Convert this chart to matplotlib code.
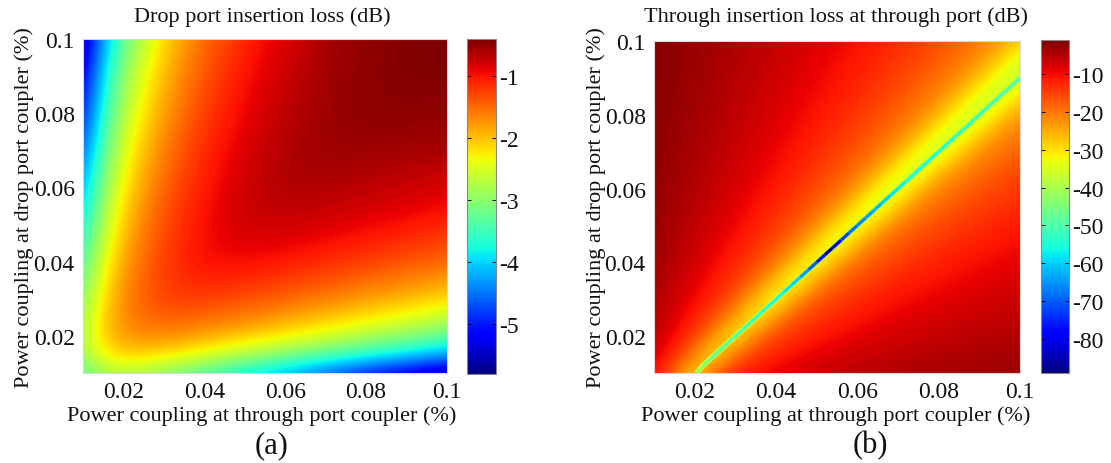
import numpy as np
import matplotlib
matplotlib.use('Agg')
from matplotlib import pyplot as plt
from matplotlib.collections import LineCollection

plt.rcParams['font.family'] = ['Liberation Serif', 'DejaVu Serif']

# coupling values of the grid nodes (through port = columns, drop port = rows)
grid_lo, grid_hi, grid_step = 0.01, 0.1, 0.005
tick_vals = [0.02, 0.04, 0.06, 0.08, 0.1]
tick_labels = ['0.02', '0.04', '0.06', '0.08', '0.1']

# (a) drop port loss, estimated from the colours, first row is drop = 0.01
drop_loss = [
    [-3.3, -2.85, -2.77, -2.85, -3.0, -3.2, -3.4, -3.6, -3.8, -4.0, -4.2, -4.4, -4.6, -4.8, -5.0, -5.15, -5.3, -5.45, -5.6],
    [-2.85, -2.3, -2.1, -2.1, -2.2, -2.3, -2.45, -2.6, -2.75, -2.9, -3.05, -3.2, -3.35, -3.5, -3.65, -3.8, -3.95, -4.1, -4.25],
    [-2.77, -2.1, -1.8, -1.7, -1.7, -1.75, -1.85, -1.95, -2.05, -2.15, -2.27, -2.38, -2.5, -2.62, -2.75, -2.87, -3.0, -3.12, -3.3],
    [-2.85, -2.1, -1.7, -1.5, -1.45, -1.45, -1.5, -1.55, -1.62, -1.7, -1.8, -1.9, -2.0, -2.1, -2.2, -2.3, -2.4, -2.52, -2.65],
    [-3.0, -2.2, -1.7, -1.45, -1.3, -1.25, -1.25, -1.3, -1.35, -1.4, -1.47, -1.55, -1.62, -1.7, -1.8, -1.88, -1.97, -2.05, -2.15],
    [-3.2, -2.3, -1.75, -1.45, -1.25, -1.15, -1.1, -1.1, -1.13, -1.18, -1.23, -1.3, -1.35, -1.42, -1.5, -1.56, -1.63, -1.7, -1.8],
    [-3.4, -2.45, -1.85, -1.5, -1.25, -1.1, -1.0, -0.97, -0.97, -1.0, -1.04, -1.08, -1.14, -1.2, -1.25, -1.32, -1.38, -1.44, -1.5],
    [-3.6, -2.6, -1.95, -1.55, -1.3, -1.1, -0.97, -0.9, -0.87, -0.87, -0.9, -0.93, -0.97, -1.02, -1.07, -1.12, -1.17, -1.23, -1.3],
    [-3.8, -2.75, -2.05, -1.62, -1.35, -1.13, -0.97, -0.87, -0.8, -0.77, -0.78, -0.8, -0.84, -0.88, -0.92, -0.96, -1.0, -1.05, -1.1],
    [-4.0, -2.9, -2.15, -1.7, -1.4, -1.18, -1.0, -0.87, -0.77, -0.72, -0.7, -0.71, -0.73, -0.76, -0.8, -0.83, -0.87, -0.91, -0.95],
    [-4.2, -3.05, -2.27, -1.8, -1.47, -1.23, -1.04, -0.9, -0.78, -0.7, -0.66, -0.64, -0.65, -0.67, -0.7, -0.73, -0.76, -0.8, -0.85],
    [-4.4, -3.2, -2.38, -1.9, -1.55, -1.3, -1.08, -0.93, -0.8, -0.71, -0.64, -0.6, -0.59, -0.6, -0.62, -0.64, -0.67, -0.7, -0.75],
    [-4.6, -3.35, -2.5, -2.0, -1.62, -1.35, -1.14, -0.97, -0.84, -0.73, -0.65, -0.59, -0.56, -0.55, -0.56, -0.57, -0.58, -0.58, -0.58],
    [-4.8, -3.5, -2.62, -2.1, -1.7, -1.42, -1.2, -1.02, -0.88, -0.76, -0.67, -0.6, -0.55, -0.52, -0.51, -0.51, -0.52, -0.53, -0.54],
    [-5.0, -3.65, -2.75, -2.2, -1.8, -1.5, -1.25, -1.07, -0.92, -0.8, -0.7, -0.62, -0.56, -0.51, -0.49, -0.48, -0.48, -0.49, -0.5],
    [-5.15, -3.8, -2.87, -2.3, -1.88, -1.56, -1.32, -1.12, -0.96, -0.83, -0.73, -0.64, -0.57, -0.51, -0.48, -0.46, -0.45, -0.45, -0.46],
    [-5.3, -3.95, -3.0, -2.4, -1.97, -1.63, -1.38, -1.17, -1.0, -0.87, -0.76, -0.67, -0.58, -0.52, -0.48, -0.45, -0.44, -0.43, -0.43],
    [-5.45, -4.1, -3.12, -2.52, -2.05, -1.7, -1.44, -1.23, -1.05, -0.91, -0.8, -0.7, -0.58, -0.53, -0.49, -0.45, -0.43, -0.42, -0.41],
    [-5.6, -4.25, -3.3, -2.65, -2.15, -1.8, -1.5, -1.3, -1.1, -0.95, -0.85, -0.75, -0.58, -0.54, -0.5, -0.46, -0.43, -0.41, -0.4],
]

# (b) through port loss, first row is drop = 0.01
through_loss = [
    [-10, -19, -30, -17, -12.7, -10.4, -8.8, -7.6, -6.7, -6.1, -5.5, -5, -4.7, -4.3, -4, -3.8, -3.5, -3.35, -3.2],
    [-7.6, -12.8, -21, -32, -19, -14.4, -11.9, -10.2, -8.9, -8, -7.2, -6.6, -6, -5.6, -5.2, -4.9, -4.6, -4.3, -4.1],
    [-6.2, -10, -14.8, -23, -33, -20, -15.6, -13, -11.2, -9.9, -8.9, -8.1, -7.4, -6.8, -6.3, -5.9, -5.6, -5.2, -4.9],
    [-5.2, -8.2, -11.7, -16.5, -24, -34, -21.4, -16.8, -14, -12.3, -10.9, -9.8, -8.9, -8.2, -7.6, -7.1, -6.6, -6.2, -5.9],
    [-4.5, -7, -9.9, -13.3, -17.8, -26, -35, -22.3, -17.6, -14.9, -13.1, -11.7, -10.6, -9.7, -8.9, -8.3, -7.7, -7.2, -6.8],
    [-4, -6.2, -8.5, -11.2, -14.5, -19, -27, -36, -23, -18.5, -15.8, -13.9, -12.4, -11.3, -10.4, -9.6, -8.9, -8.4, -7.9],
    [-3.5, -5.5, -7.5, -9.8, -12.3, -15.6, -20, -28, -36, -24, -19.4, -16.5, -14.6, -13.1, -12, -11, -10.2, -9.5, -8.9],
    [-3.2, -4.9, -6.7, -8.7, -10.8, -13.4, -16.6, -21, -29, -37, -24.7, -20, -17.2, -15.2, -13.8, -12.6, -11.6, -10.8, -10],
    [-2.9, -4.5, -6, -7.8, -9.6, -11.8, -14.3, -17.4, -22, -30, -37, -25.5, -20.7, -17.9, -15.9, -14.4, -13.2, -12.2, -11.3],
    [-2.7, -4.1, -5.5, -7.1, -8.7, -10.6, -12.7, -15.1, -18.3, -22.6, -30.5, -38, -26, -21.3, -18.5, -16.5, -14.9, -13.7, -12.7],
    [-2.5, -3.8, -5.1, -6.5, -8, -9.6, -11.4, -13.5, -16, -19, -23.4, -31.7, -38, -26, -21.7, -19, -16.9, -15.4, -14.2],
    [-2.3, -3.5, -4.7, -6, -7.3, -8.8, -10.4, -12.1, -14.2, -16.6, -19.6, -24, -32, -38, -27, -22.4, -19.4, -17.5, -15.9],
    [-2.1, -3.3, -4.4, -5.6, -6.8, -8.1, -9.5, -11.1, -12.9, -14.9, -17.2, -20.3, -24.7, -33, -38, -27.5, -22.8, -20, -17.9],
    [-2, -3, -4.1, -5.2, -6.3, -7.5, -8.8, -10.2, -11.8, -13.5, -15.4, -17.8, -20.9, -25.2, -33.5, -38, -27.8, -23.2, -20.4],
    [-1.9, -2.9, -3.9, -4.9, -5.9, -7, -8.2, -9.5, -10.9, -12.4, -14.1, -16, -18.4, -21.4, -25.8, -34, -38, -28.3, -23.6],
    [-1.8, -2.7, -3.6, -4.6, -5.6, -6.6, -7.7, -8.9, -10.1, -11.5, -12.9, -14.6, -16.6, -19, -22, -26.4, -35, -38, -28.6],
    [-1.7, -2.6, -3.4, -4.4, -5.3, -6.2, -7.2, -8.3, -9.5, -10.7, -12, -13.5, -15.1, -17.1, -19.4, -22.4, -26.8, -35, -38],
    [-1.6, -2.4, -3.3, -4.1, -5, -5.9, -6.8, -7.8, -8.9, -10, -11.2, -12.5, -14, -15.7, -17.6, -19.9, -23, -27.3, -36],
    [-1.5, -2.3, -3.1, -3.9, -4.7, -5.6, -6.5, -7.4, -8.4, -9.4, -10.5, -11.7, -13, -14.5, -16.1, -18, -20.4, -23.3, -27.7],
]

# the narrow null running along the diagonal of (b)
null_through = [0.0205, 0.022, 0.024, 0.026, 0.028, 0.03, 0.032, 0.034, 0.036, 0.038, 0.04,
                0.042, 0.044, 0.046, 0.048, 0.05, 0.052, 0.054, 0.056, 0.058, 0.06,
                0.062, 0.064, 0.066, 0.068, 0.07, 0.072, 0.074, 0.076, 0.078, 0.08,
                0.082, 0.084, 0.086, 0.088, 0.09, 0.092, 0.094, 0.096, 0.098, 0.1]
null_drop = [0.01, 0.012, 0.014, 0.016, 0.018, 0.02, 0.022, 0.024, 0.026, 0.028, 0.03,
             0.032, 0.034, 0.036, 0.038, 0.04, 0.042, 0.044, 0.046, 0.048, 0.05,
             0.052, 0.054, 0.056, 0.058, 0.06, 0.062, 0.064, 0.066, 0.068, 0.07,
             0.072, 0.074, 0.076, 0.078, 0.08, 0.082, 0.084, 0.086, 0.088, 0.09]
null_loss = [-42, -45, -47, -48, -49, -50, -51, -52, -53, -55, -56,
             -58, -60, -64, -70, -76, -86, -80, -72, -68, -66,
             -64, -62, -60, -58, -57, -56, -56, -55, -55, -54,
             -54, -53, -53, -52, -52, -51, -51, -50, -50, -49]

W, H = 1111.0, 464.0
INK = '#111111'


def rect(left, right, top, bottom):
    return [left / W, 1 - bottom / H, (right - left) / W, (bottom - top) / H]


def panel(fig, box, cbox, data, vmin, vmax, cticks, title, tx, ylx, lab, lx):
    ax = fig.add_axes(rect(*box))
    half = grid_step / 2
    img = ax.imshow(np.array(data), cmap='jet', vmin=vmin, vmax=vmax, origin='lower', aspect='auto',
                    extent=(grid_lo - half, grid_hi + half, grid_lo - half, grid_hi + half),
                    interpolation='bicubic', interpolation_stage='data')
    ax.set_xlim(grid_lo, grid_hi)
    ax.set_ylim(grid_lo, grid_hi)
    ax.set_xticks(tick_vals)
    ax.set_xticklabels(tick_labels)
    ax.set_yticks(tick_vals)
    ax.set_yticklabels(tick_labels)
    ax.tick_params(direction='in', length=0, labelsize=17, pad=6, labelcolor=INK)
    for s in ax.spines.values():
        s.set_color('#d8d8d8')
        s.set_linewidth(0.8)

    cax = fig.add_axes(rect(*cbox))
    cb = fig.colorbar(img, cax=cax)
    cb.set_ticks(cticks)
    cb.set_ticklabels([str(c) for c in cticks])
    cax.tick_params(direction='in', length=3, width=0.7, left=True, right=True,
                    labelsize=17, pad=2, labelcolor=INK)
    cb.outline.set_edgecolor('#888888')

    fig.text(tx / W, 1 - 17 / H, title, ha='center', va='center', fontsize=16, color=INK)
    fig.text(tx / W, 1 - 416 / H, 'Power coupling at through port coupler (%)',
             ha='center', va='center', fontsize=16, color=INK)
    fig.text(ylx / W, 1 - 208 / H, 'Power coupling at drop port coupler (%)',
             rotation=90, ha='center', va='center', fontsize=16, color=INK)
    fig.text(lx / W, 1 - 446 / H, lab, ha='center', va='center', fontsize=22, color=INK)
    return ax


fig = plt.figure(figsize=(W / 100, H / 100), dpi=100)

panel(fig, (83, 447, 40, 374), (467, 496, 40, 375), drop_loss, -5.8, -0.4,
      [-1, -2, -3, -4, -5], 'Drop port insertion loss (dB)', 262, 24, '(a)', 272)

ax2 = panel(fig, (654, 1020, 42, 374), (1041, 1069, 41, 374), through_loss, -89, -1,
            [-10, -20, -30, -40, -50, -60, -70, -80],
            'Through insertion loss at through port (dB)', 836, 596, '(b)', 870)

# halo, then the null itself coloured by depth
ax2.plot(null_through, null_drop, color='#c8ff30', lw=4.0, solid_capstyle='butt')
pts = np.column_stack([null_through, null_drop])
segs = np.stack([pts[:-1], pts[1:]], axis=1)
lc = LineCollection(segs, cmap='jet', linewidths=2.4)
lc.set_array(np.array(null_loss[:-1], dtype=float))
lc.set_clim(-89, -1)
ax2.add_collection(lc)

plt.savefig('out.png', dpi=100)
